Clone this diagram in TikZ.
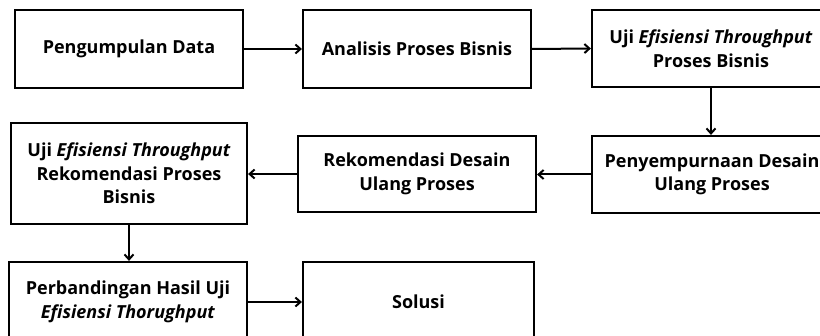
\documentclass[tikz,border=0pt]{standalone}
\usepackage{fontspec}
\setmainfont{Open Sans}
\usetikzlibrary{arrows.meta,positioning,calc}
\begin{document}
\begin{tikzpicture}[x=1pt,y=1pt,
  box/.style={draw=black, line width=2.2pt, fill=white, inner sep=0pt, align=center,
    font=\fontsize{18}{23.5}\selectfont\bfseries},
  arr/.style={line width=2pt, -{Straight Barb[length=5pt,width=9pt,line width=2pt]}}]
\useasboundingbox (0,0) rectangle (820,-336);
\fill[white] (0,0) rectangle (820,-336);
\clip (0,0) rectangle (820,-336);
\node[box, minimum width=228pt, minimum height=78pt] (b1) at (129,-49) {Pengumpulan Data};
\node[box, minimum width=228pt, minimum height=78pt] (b2) at (417,-49) {Analisis Proses Bisnis};
\node[box, minimum width=238pt, minimum height=77pt] (b3) at (711,-48.5) {Uji \textit{Efisiensi Throughput}\\Proses Bisnis};
\node[box, minimum width=240pt, minimum height=77pt] (b4) at (712,-174.5) {Penyempurnaan Desain\\Ulang Proses};
\node[box, minimum width=238pt, minimum height=76pt] (b5) at (417,-174) {Rekomendasi Desain\\Ulang Proses};
\node[box, minimum width=236pt, minimum height=101pt] (b6) at (129,-173.5) {Uji \textit{Efisiensi Throughput}\\Rekomendasi Proses\\Bisnis};
\node[box, minimum width=238pt, minimum height=80pt] (b7) at (128,-302) {Perbandingan Hasil Uji\\\textit{Efisiensi Thorughput}};
\node[box, minimum width=231pt, minimum height=80pt] (b8) at (418.5,-302) {Solusi};
\draw[arr] (b1.east) -- (b2.west);
\draw[arr] (b2.east) -- (b3.west);
\draw[arr] (b3.south) -- (b3.south |- b4.north);
\draw[arr] (b4.west) -- (b4.west -| b5.east);
\draw[arr] (b5.west) -- (b5.west -| b6.east);
\draw[arr] (b6.south) -- (b6.south |- b7.north);
\draw[arr] (b7.east) -- (b8.west);
\end{tikzpicture}
\end{document}
